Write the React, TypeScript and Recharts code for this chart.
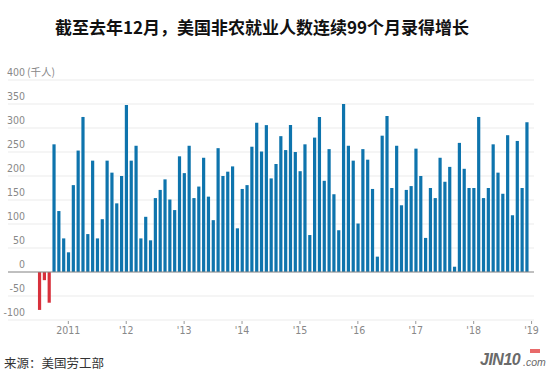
import React from 'react';
import { BarChart, Bar, Cell, XAxis, YAxis, CartesianGrid, ReferenceLine } from 'recharts';

// monthly nonfarm payroll change, thousands (Jan..Dec); null = not drawn
const v2010 = [null, null, null, null, null, null, -79, -17, -64, 266, 127, 70];
const v2011 = [41, 181, 253, 323, 79, 232, 70, 110, 232, 207, 143, 200];
const v2012 = [348, 232, 263, 70, 115, 66, 154, 171, 193, 151, 129, 241];
const v2013 = [206, 263, 154, 178, 238, 157, 108, 258, 200, 209, 220, 91];
const v2014 = [173, 181, 261, 311, 251, 306, 195, 225, 283, 254, 306, 250];
const v2015 = [210, 266, 77, 280, 323, 190, 256, 162, 87, 350, 263, 232];
const v2016 = [101, 256, 234, 173, 32, 284, 325, 175, 263, 139, 171, 179];
const v2017 = [257, 200, 71, 175, 154, 238, 188, 219, 11, 269, 215, 175];
const v2018 = [175, 323, 154, 175, 266, 207, 163, 285, 118, 273, 175, 312];
const v2019 = [null];

const years = [2010, 2011, 2012, 2013, 2014, 2015, 2016, 2017, 2018, 2019];
const yearValues = [v2010, v2011, v2012, v2013, v2014, v2015, v2016, v2017, v2018, v2019];

const xTickLabels: Record<string, string> = {
    '2011-01': '2011', '2012-01': "'12", '2013-01': "'13", '2014-01': "'14", '2015-01': "'15",
    '2016-01': "'16", '2017-01': "'17", '2018-01': "'18", '2019-01': "'19",
};
const yTicks = [-100, -50, 0, 50, 100, 150, 200, 250, 300, 350, 400];

const data = years.flatMap((yr, i) =>
    yearValues[i].map((v, m) => ({ month: `${yr}-${String(m + 1).padStart(2, '0')}`, value: v }))
);

const BLUE = '#0e74ad';
const RED = '#d8313c';
const TICK_FONT = "'Liberation Sans Narrow', 'DejaVu Sans Condensed', 'Liberation Sans', sans-serif";

const XTick = (props: any) => {
    const { x, y, payload } = props;
    const label = xTickLabels[payload.value];
    if (!label) return null;
    return (
        <g>
            <line x1={x} x2={x} y1={y + 1} y2={y + 4} stroke="#999" strokeWidth={1} />
            <text x={x} y={y + 14} textAnchor="middle" fontSize={10.5} fill="#888" fontFamily={TICK_FONT}>{label}</text>
        </g>
    );
};

const YTick = (props: any) => {
    const { y, payload } = props;
    const v = payload.value;
    return (
        <g>
            <text x={25} y={y - 4} textAnchor="end" fontSize={10.5} fill="#888" fontFamily={TICK_FONT}>{v}</text>
            {v === 400 && (
                <text x={27} y={y - 4} textAnchor="start" fontSize={10.5} fill="#888" fontFamily="'Noto Sans CJK SC', sans-serif">(千人)</text>
            )}
        </g>
    );
};

export default function App() {
    return (
        <div style={{ position: 'absolute', left: 0, top: 0, width: 550, height: 375, background: '#fff', overflow: 'hidden' }}>
            <div style={{ position: 'absolute', left: -13, top: 15, width: 550, textAlign: 'center', fontFamily: "'Noto Sans CJK SC', sans-serif", fontWeight: 700, fontSize: 17, color: '#111', lineHeight: '24px' }}>
                截至去年12月，美国非农就业人数连续99个月录得增长
            </div>
            <BarChart width={550} height={375} data={data} margin={{ top: 80, right: 16, bottom: 35, left: -22 }} barCategoryGap={0}>
                <CartesianGrid vertical={false} stroke="#ebebeb" />
                <XAxis dataKey="month" height={20} axisLine={false} tickLine={false} tickSize={0} tickMargin={0} interval={0} tick={<XTick />} />
                <YAxis width={30} domain={[-100, 400]} ticks={yTicks} interval={0} axisLine={false} tickLine={false} tick={<YTick />} />
                <ReferenceLine y={0} stroke="#8a8a8a" strokeWidth={1} />
                <Bar dataKey="value" barSize={3.2} isAnimationActive={false}>
                    {data.map((d, i) => (
                        <Cell key={i} fill={d.value !== null && d.value < 0 ? RED : BLUE} />
                    ))}
                </Bar>
            </BarChart>
            <div style={{ position: 'absolute', left: 4, top: 355, fontFamily: "'Noto Sans CJK SC', sans-serif", fontSize: 12.5, color: '#333', lineHeight: '16px' }}>
                来源：美国劳工部
            </div>
            <div style={{ position: 'absolute', left: 480, top: 348, width: 64, height: 24, fontFamily: "'Liberation Sans', sans-serif", color: '#6a6a6a' }}>
                <span style={{ position: 'absolute', left: 0, top: 3, fontSize: 16, fontWeight: 700, fontStyle: 'italic', letterSpacing: -0.5 }}>JIN10</span>
                <span style={{ position: 'absolute', left: 43, top: 8, fontSize: 10.5, fontStyle: 'italic' }}>.com</span>
                <span style={{ position: 'absolute', left: 50, top: 1, width: 10, height: 4, background: '#e86a6a' }} />
            </div>
        </div>
    );
}
